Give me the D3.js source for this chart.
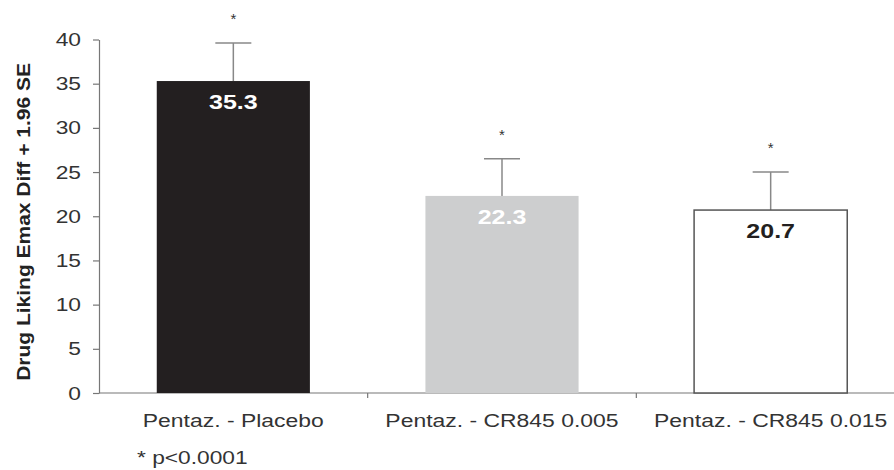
<!DOCTYPE html>
<html>
<head>
<meta charset="utf-8">
<script src="https://cdn.jsdelivr.net/npm/d3@7"></script>
<style>
  html, body { margin: 0; padding: 0; background: #fff; }
  svg { display: block; font-family: "Liberation Sans", Arial, Helvetica, sans-serif; }
</style>
</head>
<body>
<svg id="chart" width="894" height="470"></svg>
<script>
// Drug liking Emax differences (mean + 1.96 SE)
const categories = ["Pentaz. - Placebo", "Pentaz. - CR845 0.005", "Pentaz. - CR845 0.015"];
const values = [35.3, 22.3, 20.7];
const upperBounds = [39.6, 26.5, 25.0];
const barFills = ["#231f20", "#cdcecf", "#ffffff"];
const labelColors = ["#ffffff", "#ffffff", "#231f20"];
const yTicks = [0, 5, 10, 15, 20, 25, 30, 35, 40];
const yTitle = "Drug Liking Emax Diff + 1.96 SE";
const footnote = "* p<0.0001";

const svg = d3.select("#chart");
const plotLeft = 99, plotBottom = 393, plotTop = 39.5, plotRight = 905;

// widen glyphs horizontally (the typeface used here is a wide Helvetica)
function widen(sel, k) {
  sel.each(function () {
    const t = d3.select(this);
    const x0 = +t.attr("x") || 0;
    const tr = t.attr("transform") || "";
    t.attr("x", x0 / k).attr("transform", `${tr} scale(${k},1)`);
  });
}

const y = d3.scaleLinear().domain([0, 40]).range([plotBottom, plotTop]);
const x = d3.scaleBand().domain(categories).range([plotLeft, plotRight]).paddingInner(0.43).paddingOuter(0.215);

// Y axis
const yAxis = svg.append("g")
  .attr("transform", `translate(${plotLeft},0)`)
  .call(d3.axisLeft(y).tickValues(yTicks).tickSize(6).tickSizeOuter(0).tickPadding(12));
yAxis.select(".domain").attr("stroke", "#777").attr("stroke-width", 1.2);
yAxis.selectAll(".tick line").attr("stroke", "#777").attr("stroke-width", 1.2);
yAxis.selectAll(".tick text").attr("font-size", 19).attr("fill", "#333")
  .attr("font-family", "'Liberation Sans', Arial, sans-serif");
widen(yAxis.selectAll(".tick text"), 1.2);

// X axis with category separators
const xAxisG = svg.append("g").attr("transform", `translate(0,${plotBottom})`);
xAxisG.append("line").attr("x1", plotLeft).attr("x2", plotRight).attr("y1", 0).attr("y2", 0)
  .attr("stroke", "#777").attr("stroke-width", 1.2);
const step = x.step();
categories.forEach((c, i) => {
  if (i > 0) {
    const sx = x(c) - x.paddingInner() * step / 2;
    xAxisG.append("line").attr("x1", sx).attr("x2", sx).attr("y1", 0).attr("y2", 5)
      .attr("stroke", "#777").attr("stroke-width", 1.2);
  }
  xAxisG.append("text")
    .attr("class", "xlabel")
    .attr("x", x(c) + x.bandwidth() / 2).attr("y", 34)
    .attr("text-anchor", "middle").attr("font-size", 18.5).attr("fill", "#333")
    .text(c);
});
widen(xAxisG.selectAll("text.xlabel"), 1.24);

// Error bars
const bw = x.bandwidth();
categories.forEach((c, i) => {
  const cx = x(c) + bw / 2;
  const g = svg.append("g");
  g.append("line").attr("x1", cx).attr("x2", cx).attr("y1", y(values[i])).attr("y2", y(upperBounds[i]))
    .attr("stroke", "#888").attr("stroke-width", 1.5);
  g.append("line").attr("x1", cx - 18).attr("x2", cx + 18).attr("y1", y(upperBounds[i])).attr("y2", y(upperBounds[i]))
    .attr("stroke", "#888").attr("stroke-width", 1.5);
  g.append("text").attr("x", cx).attr("y", y(upperBounds[i]) - 19)
    .attr("text-anchor", "middle").attr("font-size", 15).attr("fill", "#333").text("*");
});

// Bars
svg.append("g").selectAll("rect").data(categories).join("rect")
  .attr("x", d => x(d))
  .attr("y", (d, i) => y(values[i]))
  .attr("width", bw)
  .attr("height", (d, i) => plotBottom - y(values[i]))
  .attr("fill", (d, i) => barFills[i])
  .attr("stroke", (d, i) => i === 2 ? "#555" : "none")
  .attr("stroke-width", 1.5);

// Value labels
const valueLabels = svg.append("g").selectAll("text").data(categories).join("text")
  .attr("x", d => x(d) + bw / 2)
  .attr("y", (d, i) => y(values[i]) + 28)
  .attr("text-anchor", "middle")
  .attr("font-size", 20).attr("font-weight", "bold")
  .attr("fill", (d, i) => labelColors[i])
  .text((d, i) => values[i].toFixed(1));
widen(valueLabels, 1.25);

// Y axis title
const titleText = svg.append("text")
  .attr("transform", `translate(30,222) rotate(-90)`)
  .attr("text-anchor", "middle").attr("font-size", 17.5).attr("font-weight", "bold").attr("fill", "#222")
  .text(yTitle);
widen(titleText, 1.2);

// Footnote
const note = svg.append("text").attr("x", 137).attr("y", 464)
  .attr("font-size", 18.5).attr("fill", "#333").text(footnote);
widen(note, 1.23);
</script>
</body>
</html>
